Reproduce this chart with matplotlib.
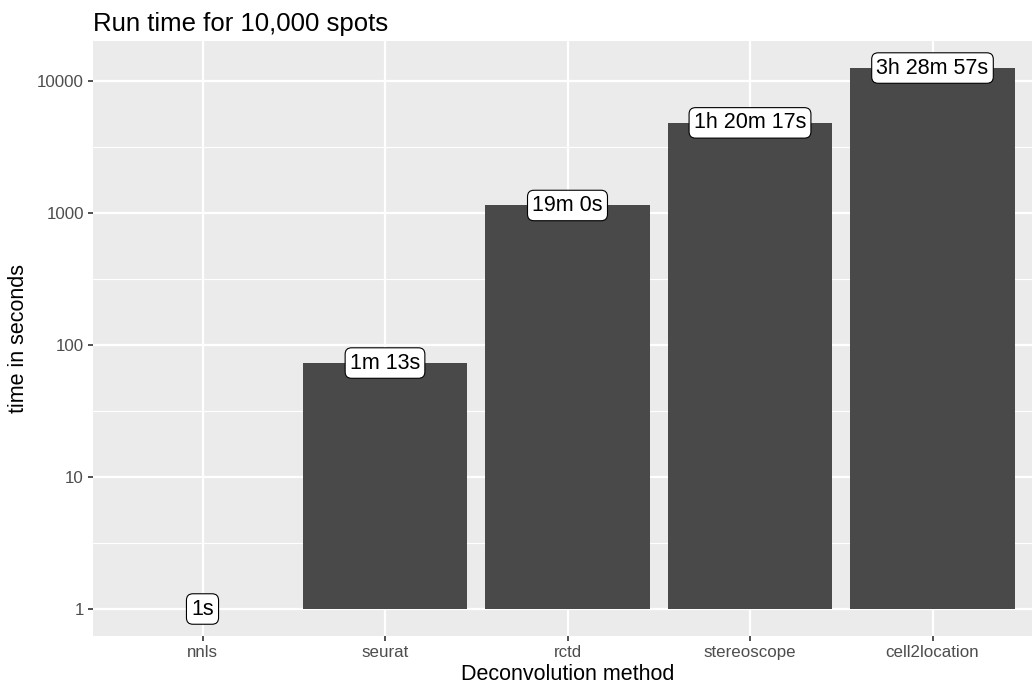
import matplotlib
matplotlib.use("Agg")
import matplotlib.pyplot as plt
import numpy as np

methods = ["nnls", "seurat", "rctd", "stereoscope", "cell2location"]
seconds = [1, 73, 1140, 4817, 12537]


def fmt_time(s):
    h, rem = divmod(int(s), 3600)
    m, sec = divmod(rem, 60)
    if h:
        return f"{h}h {m}m {sec}s"
    if m:
        return f"{m}m {sec}s"
    return f"{sec}s"


plt.rcParams["font.family"] = ["Liberation Sans", "DejaVu Sans"]

fig = plt.figure(figsize=(10.32, 6.9), dpi=100)
# panel runs slightly past the right edge
ax = fig.add_axes([93 / 1032, 1 - 636 / 690, (1042 - 93) / 1032, (636 - 41) / 690])
ax.set_facecolor("#EBEBEB")

x = np.arange(1, len(methods) + 1)
ax.set_yscale("log")
ax.set_ylim(10 ** -0.2045, 10 ** 4.303)
ax.set_xlim(0.4, len(methods) + 0.6)

# grid lines: major at decades, minor halfway in log space
for e in range(0, 5):
    ax.axhline(10 ** e, color="white", lw=1.6, zorder=0)
for e in np.arange(-0.5, 4.6, 1.0):
    ax.axhline(10 ** e, color="white", lw=0.8, zorder=0)
for xi in x:
    ax.axvline(xi, color="white", lw=1.6, zorder=0)

# bars grow from 1 second on the log axis
ax.bar(x, np.array(seconds) - 1, bottom=1, width=0.9, color="#494949", zorder=2)

for xi, s in zip(x, seconds):
    ax.text(xi, s, fmt_time(s), ha="center", va="center", fontsize=15.5, color="black", zorder=3,
            bbox=dict(boxstyle="round,pad=0.22,rounding_size=0.3", fc="white", ec="black", lw=0.8))

ax.set_xticks(x)
ax.set_xticklabels(methods)
ax.set_yticks([1, 10, 100, 1000, 10000])
ax.set_yticklabels(["1", "10", "100", "1000", "10000"])
ax.minorticks_off()
ax.tick_params(axis="both", length=3.5, width=1.2, color="#333333", labelcolor="#4D4D4D",
               labelsize=12.2, pad=3)
for sp in ax.spines.values():
    sp.set_visible(False)

ax.set_xlabel("Deconvolution method", fontsize=15.5, labelpad=3)
ax.set_ylabel("time in seconds", fontsize=15.5, labelpad=6)
ax.set_title("Run time for 10,000 spots", fontsize=18.5, loc="left", pad=7)

fig.savefig("out.png", dpi=100)
